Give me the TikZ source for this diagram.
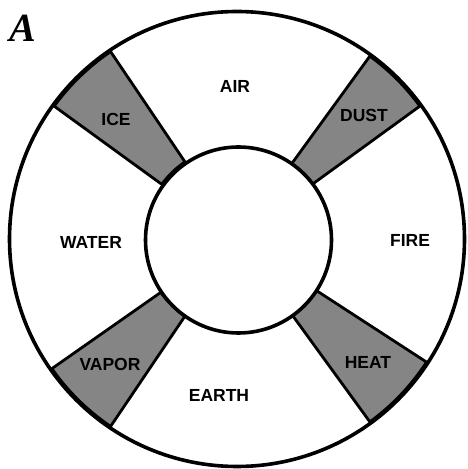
\documentclass[tikz,border=0pt]{standalone}
\usepackage{fontspec}
\usetikzlibrary{calc}
\setmainfont{Liberation Serif}
\setsansfont{Liberation Sans}
\begin{document}
\begin{tikzpicture}[x=1pt,y=1pt,
  ring/.style={draw=black,line width=3.6pt,fill=white},
  wedge/.style={draw=black,line width=2.8pt,fill=black!48,line join=round},
  lab/.style={font=\sffamily\bfseries\fontsize{17.5}{17.5}\selectfont,text=black,inner sep=0pt},
  fig/.style={font=\rmfamily\bfseries\itshape\fontsize{40}{40}\selectfont,inner sep=0pt}]
\useasboundingbox (0,0) rectangle (467,469);
\coordinate (c) at (237,230);
\node[ring,circle,minimum size=455pt,inner sep=0pt] (outer) at (c) {};
% shaded wedges
\foreach \nm/\a/\b in {ice/124/144, dust/36/54, vapor/215/236, heat/306/327}{
  \path[wedge] ($(c)+(\a:226)$) arc[start angle=\a,end angle=\b,radius=226]
     -- ($(c)+(\b:93)$) arc[start angle=\b,end angle=\a,radius=93] -- cycle;
}
\node[ring,circle,minimum size=186pt,inner sep=0pt] (inner) at (238.5,229) {};
\node[lab] (air) at (235,383) {AIR};
\node[lab] (water) at (91,227) {WATER};
\node[lab] (fire) at (410,229) {FIRE};
\node[lab] (earth) at (219,74) {EARTH};
\node[lab] (ice) at (116,350) {ICE};
\node[lab] (dust) at (364,354) {DUST};
\node[lab] (vapor) at (110,105) {VAPOR};
\node[lab] (heat) at (368,107) {HEAT};
\node[fig] (figA) at (23,441) {A};
\end{tikzpicture}
\end{document}
